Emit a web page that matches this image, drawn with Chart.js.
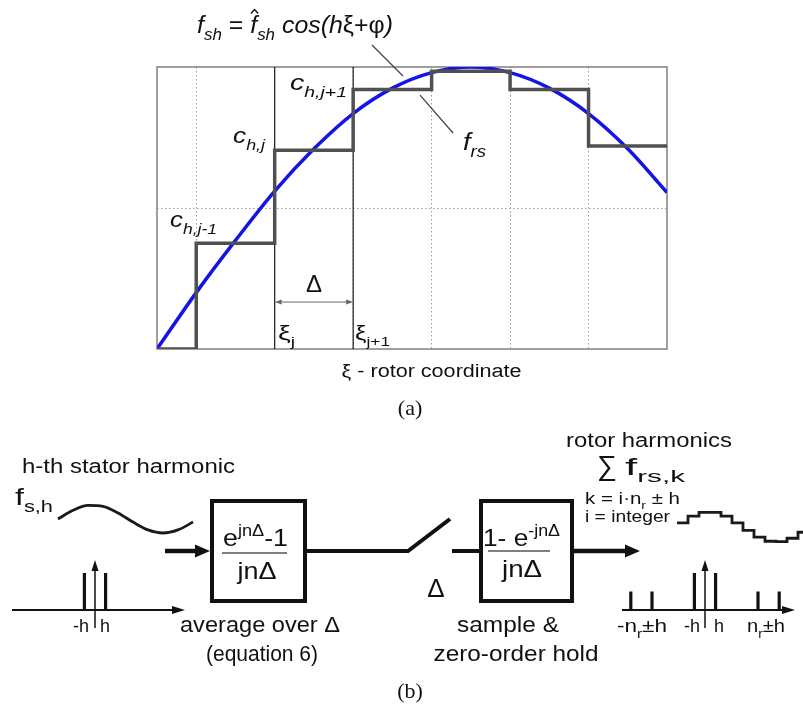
<!DOCTYPE html>
<html>
<head>
<meta charset="utf-8">
<script src="https://cdn.jsdelivr.net/npm/chart.js@4.4.1/dist/chart.umd.min.js"></script>
<style>
  html, body { margin: 0; padding: 0; background: #fff; }
  #wrap { position: relative; width: 803px; height: 705px; }
  #chartA { position: absolute; left: 0; top: 0; }
  #chartB { position: absolute; left: 0; top: 420px; }
</style>
</head>
<body>
<div id="wrap">
  <canvas id="chartA" width="803" height="420"></canvas>
  <canvas id="chartB" width="803" height="285"></canvas>
</div>
<script>
// ---- (a) rotor coordinate xi, one unit = one step Delta ----
const curveXi = [-0.5, 0, 0.5, 1, 1.5, 2, 2.5, 3, 3.5, 4, 4.5, 5, 5.5, 6]
const curveVal = [-1.0, -0.6, -0.23, 0.12, 0.42, 0.67, 0.85, 0.96, 1.0, 0.96, 0.85, 0.67, 0.42, 0.11]
const stepXi = [-0.5, 0, 1, 2, 3, 4, 5, 6]
const stepVal = [-1.0, -0.25, 0.41, 0.84, 0.97, 0.84, 0.44, 0.44]
const gridXi = [0, 1, 2, 3, 4, 5]
const gridVal = [0]
const sampleEdges = [1, 2] // xi_j, xi_j+1

// ---- (b) block diagram signals ----
const statorWave = [0, 0.62, 0.97, 0.9, 0.43, -0.22, -0.78, -1, -0.78, -0.22]
const rotorSteps = [0.28, 0.72, 0.97, 0.97, 0.72, 0.28, -0.23, -0.68, -0.95, -0.98, -0.75, -0.35]
const specLeftOrder = [-1, 1]
const specLeftAmp = [1, 1]
const specRightOrder = [-7, -5, -1, 1, 5, 7]
const specRightAmp = [0.5, 0.5, 1, 1, 0.5, 0.5]

const SANS = '"Liberation Sans", Arial, "DejaVu Sans", sans-serif'
const SERIF = '"Liberation Serif", "Times New Roman", serif'

// rich text: segments with sub/sup, stretched to a given width
function rich(ctx, segs, x, y, o) {
  o = o || {}
  const size = o.size || 20, fam = o.fam || SANS
  const parts = segs.map(s => {
    if (typeof s === 'string') s = { t: s }
    const sz = (s.sub || s.sup) ? size * 0.68 : size * (s.scale || 1)
    const it = s.it !== undefined ? s.it : o.it
    const font = (it ? 'italic ' : '') + sz + 'px ' + fam
    ctx.font = font
    return Object.assign({}, s, { font, sz, w: ctx.measureText(s.t).width, dy: s.sub ? size * 0.3 : s.sup ? -size * 0.42 : 0 })
  })
  const total = parts.reduce((a, p) => a + p.w, 0)
  const k = o.w ? o.w / total : 1
  const x0 = o.align === 'center' ? x - total * k / 2 : x
  ctx.save()
  ctx.translate(x0, y)
  ctx.scale(k, 1)
  ctx.fillStyle = o.color || '#111'
  ctx.strokeStyle = o.color || '#111'
  ctx.textAlign = 'left'
  ctx.textBaseline = 'alphabetic'
  let cx = 0
  parts.forEach(p => {
    ctx.font = p.font
    ctx.fillText(p.t, cx, p.dy)
    if (p.hat) {
      const hx = cx + p.w * 0.62, hy = -size * 0.98
      ctx.lineWidth = 1.3
      ctx.beginPath()
      ctx.moveTo(hx - 3.5, hy + 4)
      ctx.lineTo(hx, hy)
      ctx.lineTo(hx + 3.5, hy + 4)
      ctx.stroke()
    }
    cx += p.w
  })
  ctx.restore()
}

function arrow(ctx, x1, y1, x2, y2, lw, hl, hw) {
  const a = Math.atan2(y2 - y1, x2 - x1)
  const bx = x2 - hl * Math.cos(a), by = y2 - hl * Math.sin(a)
  ctx.lineWidth = lw
  ctx.beginPath()
  ctx.moveTo(x1, y1)
  ctx.lineTo(bx, by)
  ctx.stroke()
  ctx.beginPath()
  ctx.moveTo(x2, y2)
  ctx.lineTo(bx - hw * Math.sin(a), by + hw * Math.cos(a))
  ctx.lineTo(bx + hw * Math.sin(a), by - hw * Math.cos(a))
  ctx.closePath()
  ctx.fill()
}

// ---------------- panel (a) ----------------
const panelA = {
  id: 'panelA',
  beforeDatasetsDraw(chart) {
    const { ctx, chartArea: a } = chart
    ctx.save()
    ctx.strokeStyle = '#808080'
    ctx.lineWidth = 1.5
    ctx.strokeRect(a.left, a.top, a.right - a.left, a.bottom - a.top)
    ctx.restore()
  },
  afterDraw(chart) {
    const { ctx } = chart
    const sx = chart.scales.x, sy = chart.scales.y
    const X = v => sx.getPixelForValue(v), Y = v => sy.getPixelForValue(v)
    ctx.save()
    ctx.fillStyle = '#111'
    ctx.strokeStyle = '#444'
    // pointer lines
    ctx.lineWidth = 1.3
    ctx.beginPath()
    ctx.moveTo(X(2.24), Y(1.156)); ctx.lineTo(X(2.635), Y(0.936))
    ctx.moveTo(X(2.852), Y(0.801)); ctx.lineTo(X(3.273), Y(0.532))
    ctx.stroke()
    // Delta span arrow
    ctx.strokeStyle = '#666'
    ctx.fillStyle = '#666'
    arrow(ctx, X(1.5), Y(-0.667), X(1), Y(-0.667), 1, 7, 2.5)
    arrow(ctx, X(1.5), Y(-0.667), X(2), Y(-0.667), 1, 7, 2.5)
    ctx.restore()

    rich(ctx, [{ t: 'f', it: true }, { t: 'sh', sub: true, it: true }, ' = ', { t: 'f', it: true, hat: true },
      { t: 'sh', sub: true, it: true }, { t: ' cos(h', it: true }, 'ξ', '+', 'φ', { t: ')', it: true }],
      X(0.01), Y(1.241), { size: 24, w: 196 })
    rich(ctx, [{ t: 'c', it: true }, { t: 'h,j+1', sub: true, it: true }], X(1.195), Y(0.837), { size: 22, w: 57 })
    rich(ctx, [{ t: 'c', it: true }, { t: 'h,j', sub: true, it: true }], X(0.469), Y(0.461), { size: 22, w: 32 })
    rich(ctx, [{ t: 'c', it: true }, { t: 'h,j-1', sub: true, it: true }], X(-0.334), Y(-0.135), { size: 22, w: 47 })
    rich(ctx, [{ t: 'f', it: true }, { t: 'rs', sub: true, it: true }], X(3.40), Y(0.411), { size: 24, w: 23 })
    rich(ctx, ['Δ'], X(1.5), Y(-0.596), { size: 24, align: 'center' })
    rich(ctx, ['ξ', { t: 'j', sub: true }], X(1.042), Y(-0.936), { size: 20, w: 17 })
    rich(ctx, ['ξ', { t: 'j+1', sub: true }], X(2.024), Y(-0.936), { size: 20, w: 35 })
    rich(ctx, ['ξ - rotor coordinate'], X(3.0), Y(-1.199), { size: 18, w: 180, align: 'center' })
    rich(ctx, ['(a)'], X(2.725), Y(-1.468), { size: 22, fam: SERIF, align: 'center' })
  }
}

new Chart(document.getElementById('chartA'), {
  type: 'line',
  data: {
    datasets: [
      {
        data: stepXi.map((x, i) => ({ x, y: stepVal[i] })),
        stepped: true,
        borderColor: '#505050',
        borderWidth: 3.5,
        order: 0
      },
      {
        data: curveXi.map((x, i) => ({ x, y: curveVal[i] })),
        cubicInterpolationMode: 'monotone',
        borderColor: '#1414e6',
        borderWidth: 3.5,
        order: 1
      },
      ...sampleEdges.map(e => ({
        data: [{ x: e, y: -1 }, { x: e, y: 1 }],
        borderColor: '#1a1a1a',
        borderWidth: 1.2,
        order: 2
      }))
    ]
  },
  options: {
    responsive: false,
    animation: false,
    events: [],
    layout: { padding: { left: 157, right: 136, top: 67, bottom: 71 } },
    elements: { point: { radius: 0 } },
    plugins: { legend: { display: false }, tooltip: { enabled: false } },
    scales: {
      x: {
        type: 'linear', min: -0.5, max: 6,
        afterBuildTicks: s => { s.ticks = gridXi.map(v => ({ value: v })) },
        afterFit: s => { s.height = 0 },
        ticks: { display: false },
        grid: { color: '#9a9a9a', lineWidth: 1, drawTicks: false },
        border: { display: false, dash: [1.5, 2.5] }
      },
      y: {
        type: 'linear', min: -1, max: 1,
        afterBuildTicks: s => { s.ticks = gridVal.map(v => ({ value: v })) },
        afterFit: s => { s.width = 0 },
        ticks: { display: false },
        grid: { color: '#9a9a9a', lineWidth: 1, drawTicks: false },
        border: { display: false, dash: [1.5, 2.5] }
      }
    }
  },
  plugins: [panelA]
})

// ---------------- panel (b) ----------------
// diagram units: x 0..803, y 0..285 downwards
const L = {
  stator: { x0: 58, dx: 15, y0: 99, amp: 14 },
  rotor: { x0: 677, dx: 11, x1: 803, y0: 107, amp: 15 },
  specL: { cx: 95, unit: 10.6, base: 190, amp: 37, x0: 12, x1: 185 },
  specR: { cx: 705, unit: 10.6, base: 190, amp: 37, x0: 622, x1: 795 },
  box1: [212, 81, 305, 181],
  box2: [481, 81, 572, 181],
  sigY: 131
}

function specLines(sp, orders, amps) {
  const pts = []
  orders.forEach((o, i) => {
    const x = sp.cx + o * sp.unit
    pts.push({ x, y: sp.base }, { x, y: sp.base - amps[i] * sp.amp }, { x, y: null })
  })
  return pts
}

const rotorPts = rotorSteps.map((v, i) => ({ x: L.rotor.x0 + i * L.rotor.dx, y: L.rotor.y0 - v * L.rotor.amp }))
rotorPts.push({ x: L.rotor.x1, y: rotorPts[rotorPts.length - 1].y })

const panelB = {
  id: 'panelB',
  afterDatasetsDraw(chart) {
    const { ctx } = chart
    const sx = chart.scales.x, sy = chart.scales.y
    const X = v => sx.getPixelForValue(v), Y = v => sy.getPixelForValue(v)
    ctx.save()
    ctx.strokeStyle = '#111'
    ctx.fillStyle = '#111'
    ctx.lineCap = 'butt'
    // signal path
    arrow(ctx, X(165), Y(L.sigY), X(210), Y(L.sigY), 4.5, 15, 6.5)
    ctx.lineWidth = 4
    ctx.strokeRect(X(L.box1[0]), Y(L.box1[1]), X(L.box1[2]) - X(L.box1[0]), Y(L.box1[3]) - Y(L.box1[1]))
    ctx.strokeRect(X(L.box2[0]), Y(L.box2[1]), X(L.box2[2]) - X(L.box2[0]), Y(L.box2[3]) - Y(L.box2[1]))
    ctx.beginPath()
    ctx.moveTo(X(307), Y(L.sigY)); ctx.lineTo(X(408), Y(L.sigY))
    ctx.lineTo(X(450), Y(99))
    ctx.moveTo(X(452), Y(L.sigY)); ctx.lineTo(X(479), Y(L.sigY))
    ctx.stroke()
    arrow(ctx, X(574), Y(L.sigY), X(640), Y(L.sigY), 4.5, 15, 6.5)
    // fraction bars
    ctx.strokeStyle = '#555'
    ctx.lineWidth = 1.5
    ctx.beginPath()
    ctx.moveTo(X(222), Y(133)); ctx.lineTo(X(287), Y(133))
    ctx.moveTo(X(488), Y(131)); ctx.lineTo(X(550), Y(131))
    ctx.stroke()
    // spectrum axes
    ctx.strokeStyle = '#111'
    ;[L.specL, L.specR].forEach(sp => {
      arrow(ctx, X(sp.x0), Y(sp.base), X(sp.x1), Y(sp.base), 1.8, 13, 4)
      arrow(ctx, X(sp.cx), Y(sp.base + 18), X(sp.cx), Y(sp.base - 50), 1.5, 11, 3.5)
    })
    ctx.restore()

    // texts
    rich(ctx, ['h-th stator harmonic'], X(22), Y(53), { size: 20, w: 213 })
    rich(ctx, ['f', { t: 's,h', sub: true }], X(15), Y(85), { size: 24, w: 38 })
    rich(ctx, ['e', { t: 'jnΔ', sup: true }, '-1'], X(223), Y(126), { size: 24, w: 65 })
    rich(ctx, ['jnΔ'], X(257), Y(159), { size: 24, w: 39, align: 'center' })
    rich(ctx, ['1- e', { t: '-jnΔ', sup: true }], X(483), Y(126), { size: 24, w: 77 })
    rich(ctx, ['jnΔ'], X(522), Y(157), { size: 24, w: 40, align: 'center' })
    rich(ctx, ['Δ'], X(436), Y(177), { size: 26, align: 'center' })
    rich(ctx, ['rotor harmonics'], X(566), Y(27), { size: 20, w: 166 })
    rich(ctx, ['∑'], X(597), Y(55), { size: 28, w: 20 })
    rich(ctx, ['f', { t: 'rs,k', sub: true }], X(625), Y(55), { size: 24, w: 60 })
    rich(ctx, ['k = i·n', { t: 'r', sub: true }, ' ± h'], X(585), Y(84), { size: 17, w: 95 })
    rich(ctx, ['i = integer'], X(585), Y(102), { size: 17, w: 85 })
    rich(ctx, ['-h'], X(73), Y(212), { size: 19, w: 16 })
    rich(ctx, ['h'], X(100), Y(212), { size: 19, w: 10 })
    rich(ctx, ['-n', { t: 'r', sub: true }, '±h'], X(617), Y(212), { size: 19, w: 50 })
    rich(ctx, ['-h'], X(684), Y(212), { size: 19, w: 16 })
    rich(ctx, ['h'], X(714), Y(212), { size: 19, w: 10 })
    rich(ctx, ['n', { t: 'r', sub: true }, '±h'], X(747), Y(212), { size: 19, w: 38 })
    rich(ctx, ['average over Δ'], X(180), Y(212), { size: 22, w: 160 })
    rich(ctx, ['(equation 6)'], X(262), Y(241), { size: 22, w: 112, align: 'center' })
    rich(ctx, ['sample &'], X(508), Y(212), { size: 22, w: 102, align: 'center' })
    rich(ctx, ['zero-order hold'], X(516), Y(241), { size: 22, w: 165, align: 'center' })
    rich(ctx, ['(b)'], X(410), Y(278), { size: 22, fam: SERIF, align: 'center' })
  }
}

new Chart(document.getElementById('chartB'), {
  type: 'line',
  data: {
    datasets: [
      {
        data: statorWave.map((v, i) => ({ x: L.stator.x0 + i * L.stator.dx, y: L.stator.y0 - v * L.stator.amp })),
        cubicInterpolationMode: 'monotone',
        borderColor: '#1a1a1a',
        borderWidth: 2.8
      },
      {
        data: rotorPts,
        stepped: true,
        borderColor: '#1a1a1a',
        borderWidth: 2.8
      },
      {
        data: specLines(L.specL, specLeftOrder, specLeftAmp).concat(specLines(L.specR, specRightOrder, specRightAmp)),
        spanGaps: false,
        borderColor: '#111',
        borderWidth: 3.2,
        borderCapStyle: 'butt'
      }
    ]
  },
  options: {
    responsive: false,
    animation: false,
    events: [],
    layout: { padding: 0 },
    elements: { point: { radius: 0 } },
    plugins: { legend: { display: false }, tooltip: { enabled: false } },
    scales: {
      x: { type: 'linear', display: false, min: 0, max: 803 },
      y: { type: 'linear', display: false, min: 0, max: 285, reverse: true }
    }
  },
  plugins: [panelB]
})
</script>
</body>
</html>
